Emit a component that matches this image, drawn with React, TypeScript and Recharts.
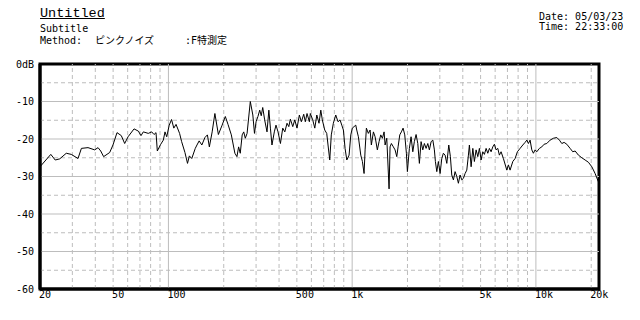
import { LineChart, Line, XAxis, YAxis, ReferenceLine, ReferenceArea } from 'recharts';

const FREQ = [
  20, 22.9, 24.2, 25.6, 27.8, 29.6, 32.2, 33.6, 36.5, 39.7, 41.4, 42.8, 44.4, 47.9, 49.9, 52.5, 55.4, 57.8, 60.3,
  65, 68.6, 70.9, 73, 77.7, 81.1, 83.5, 85.6, 87, 90.8, 93.8, 95.8, 97.9, 101, 104, 107, 110, 115, 118, 123, 127,
  130, 134, 140, 143, 147, 152, 158, 163, 167, 173, 179, 187, 196, 204, 211, 220, 230, 236, 241, 246, 252, 257,
  262, 268, 279, 288, 294, 300, 307, 314, 320, 326, 334, 344, 352, 359, 366, 377, 385, 395, 407, 419, 430, 442,
  452, 461, 475, 487, 501, 516, 529, 545, 556, 568, 585, 592, 610, 626, 642, 660, 675, 688, 709, 727, 739, 755,
  770, 790, 814, 838, 859, 878, 896, 915, 935, 962, 983, 1002, 1024, 1046, 1059, 1081, 1114, 1137, 1161, 1176,
  1195, 1225, 1252, 1272, 1305, 1333, 1371, 1401, 1431, 1461, 1492, 1511, 1543, 1588, 1608, 1635, 1676, 1712,
  1749, 1778, 1816, 1853, 1893, 1933, 1973, 1998, 2048, 2092, 2138, 2180, 2228, 2276, 2322, 2372, 2423, 2472,
  2526, 2580, 2632, 2690, 2748, 2802, 2838, 2888, 2946, 3010, 3074, 3136, 3204, 3274, 3356, 3424, 3484, 3556,
  3632, 3710, 3786, 3866, 3950, 4030, 4118, 4206, 4292, 4346, 4440, 4536, 4626, 4726, 4828, 4926, 5032, 5140,
  5244, 5358, 5472, 5584, 5704, 5826, 5944, 6072, 6202, 6328, 6464, 6654, 6944, 7084, 7236, 7486, 7704, 7930,
  8204, 8486, 8734, 8922, 9102, 9298, 9500, 9692, 9900, 10114, 10448, 10768, 11082, 11462, 11948, 12452, 12994,
  13426, 13836, 14240, 14732, 15354, 15870, 16352, 17038, 17778, 18530, 19312, 20152, 21000, 21880,
];

const LEVEL = [
  -27.4, -24.1, -25.6, -25.3, -23.8, -24.1, -25.2, -22.5, -22.3, -22.9, -22.3, -23.2, -24.7, -23.6, -21.6, -18.3, -19.1, -21.2, -19.4,
  -17.3, -17.9, -19.1, -18.1, -18.5, -18.1, -18.8, -18.3, -23.2, -21.4, -20.3, -18.1, -19.4, -16.3, -14.8, -17.1, -16.1, -18.5, -20.7, -23.6, -26.5,
  -24.5, -25.2, -22.5, -21.6, -20.5, -21.6, -19.6, -18.9, -22.1, -18.1, -13.2, -18.8, -16.3, -14.0, -16.1, -18.9, -23.8, -24.7, -22.1, -23.8, -18.9, -18.1,
  -19.8, -18.5, -10.0, -13.6, -18.5, -15.4, -14.0, -12.3, -13.8, -11.6, -14.9, -18.1, -12.3, -17.1, -21.6, -18.1, -16.3, -18.1, -21.2, -17.1, -18.1, -15.8,
  -16.7, -14.7, -16.7, -14.9, -17.1, -13.6, -15.4, -13.4, -15.4, -13.2, -15.4, -13.2, -14.9, -17.1, -13.6, -15.8, -12.3, -14.9, -17.6, -18.5, -21.6, -25.6,
  -18.9, -15.8, -13.6, -15.4, -14.9, -16.3, -17.6, -22.5, -25.6, -24.3, -18.9, -17.1, -16.7, -16.3, -17.6, -19.4, -24.3, -26.0, -29.2, -22.9,
  -17.1, -18.5, -17.6, -21.6, -18.1, -19.4, -22.9, -20.7, -18.9, -19.8, -18.1, -21.6, -19.8, -33.3, -22.1, -21.2, -22.1, -22.9,
  -24.7, -22.1, -18.9, -18.1, -17.1, -18.9, -23.8, -28.7, -22.5, -19.4, -23.4, -20.7, -18.8, -21.2, -26.5, -20.7, -22.9, -21.2,
  -22.5, -21.2, -22.9, -20.7, -20.3, -22.9, -26.0, -28.7, -26.0, -29.2, -25.2, -23.8, -24.3, -26.5, -21.6, -24.7, -29.6, -30.9,
  -28.7, -30.0, -31.8, -29.6, -30.9, -30.5, -29.2, -28.3, -24.3, -21.6, -27.4, -22.5, -26.0, -22.9, -24.7, -22.5, -25.6, -23.4,
  -24.1, -22.5, -23.8, -22.5, -23.4, -22.1, -21.4, -22.9, -22.5, -24.3, -23.4, -25.2, -28.3, -26.9, -28.3, -26.0, -25.2, -23.4,
  -22.5, -21.6, -20.9, -20.3, -21.2, -20.3, -22.9, -23.8, -22.9, -23.4, -22.5, -22.1, -21.4, -21.2, -20.3, -19.8, -19.6,
  -20.3, -21.2, -20.9, -21.4, -22.5, -23.4, -23.2, -24.3, -25.0, -25.6, -26.2, -27.4, -29.2, -31.4,
];

const X_TICKS = [20, 50, 100, 500, 1000, 5000, 10000, 20000];
const X_LABELS = ['20', '50', '100', '500', '1k', '5k', '10k', '20k'];
const Y_TICKS = [-60, -50, -40, -30, -20, -10, 0];
const Y_LABELS = ['-60', '-50', '-40', '-30', '-20', '-10', '0dB'];

const X_MAJOR = [100, 1000, 10000];
const X_MINOR = [30, 40, 50, 60, 70, 80, 90, 200, 300, 400, 500, 600, 700, 800, 900, 2000, 3000, 4000, 5000, 6000, 7000, 8000, 9000, 20000];
const Y_MAJOR = [-50, -40, -30, -20, -10];
const Y_MINOR = [-55, -45, -35, -25, -15, -5];

const data = FREQ.map((f, i) => ({ f, db: LEVEL[i] }));

const mono = "'DejaVu Sans Mono', 'Noto Sans CJK JP', monospace";
const thinMono = "'Liberation Mono', 'DejaVu Sans Mono', monospace";
const GRID = '#bdbdbd';

const XTick = ({ x, y, payload }: any) => {
    const i = X_TICKS.indexOf(payload.value);
    return (
        <text x={x - 1} y={y} textAnchor="start" fontFamily={mono} fontSize={10} fill="#000">
            {X_LABELS[i]}
        </text>
    );
};

const YTick = ({ x, y, payload }: any) => {
    const i = Y_TICKS.indexOf(payload.value);
    return (
        <text x={x} y={y} dy="0.35em" textAnchor="end" fontFamily={mono} fontSize={10} fill="#000">
            {Y_LABELS[i]}
        </text>
    );
};

const txt = (left: number, top: number, size = 10): React.CSSProperties => ({
    position: 'absolute',
    left,
    top,
    fontFamily: mono,
    fontSize: size,
    lineHeight: `${size}px`,
    color: '#000',
    whiteSpace: 'pre',
});

export default function App() {
    return (
        <div style={{ position: 'absolute', left: 0, top: 0, width: 640, height: 320, background: '#fff' }}>
            <div style={{ ...txt(40, 7, 14), fontFamily: thinMono, fontSize: 13.5, textDecoration: 'underline' }}>Untitled</div>
            <div style={txt(40, 24)}>Subtitle</div>
            <div style={txt(40, 36)}>Method:</div>
            <div style={txt(95, 36)}>ピンクノイズ</div>
            <div style={txt(185, 36)}>:F特測定</div>
            <div style={txt(539, 12)}>Date: 05/03/23</div>
            <div style={txt(539, 22)}>Time: 22:33:00</div>
            <div style={{ position: 'absolute', left: 0, top: 0 }}>
                <LineChart width={640} height={320} data={data} margin={{ top: 64, right: 41, bottom: 0, left: 0 }}>
                    <XAxis
                        dataKey="f"
                        type="number"
                        scale="log"
                        domain={[20, 22050]}
                        ticks={X_TICKS}
                        allowDataOverflow
                        height={31}
                        axisLine={{ stroke: '#000', strokeWidth: 3 }}
                        tickLine={false}
                        tickSize={0}
                        tickMargin={9}
                        tick={<XTick />}
                        interval={0}
                    />
                    <YAxis
                        type="number"
                        domain={[-60, 0]}
                        ticks={Y_TICKS}
                        allowDataOverflow
                        width={40}
                        axisLine={{ stroke: '#000', strokeWidth: 3 }}
                        tickLine={false}
                        tickSize={0}
                        tickMargin={6}
                        tick={<YTick />}
                        interval={0}
                    />
                    {Y_MINOR.map((v) => (
                        <ReferenceLine key={'ym' + v} y={v} stroke={GRID} strokeDasharray="4 3" />
                    ))}
                    {X_MINOR.map((v) => (
                        <ReferenceLine key={'xm' + v} x={v} stroke={GRID} strokeDasharray="4 3" />
                    ))}
                    {Y_MAJOR.map((v) => (
                        <ReferenceLine key={'yM' + v} y={v} stroke={GRID} />
                    ))}
                    {X_MAJOR.map((v) => (
                        <ReferenceLine key={'xM' + v} x={v} stroke={GRID} />
                    ))}
                    <Line type="linear" dataKey="db" stroke="#000" strokeWidth={1} dot={false} isAnimationActive={false} />
                    <ReferenceArea x1={20} x2={22050} y1={-60} y2={0} fill="none" stroke="#000" strokeWidth={3} />
                </LineChart>
            </div>
        </div>
    );
}
